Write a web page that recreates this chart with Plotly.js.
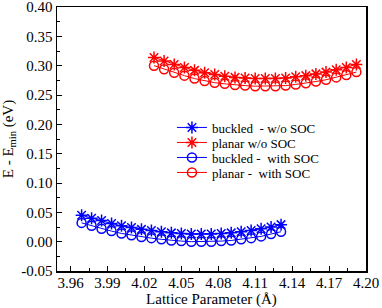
<!DOCTYPE html>
<html>
<head>
<meta charset="utf-8">
<script src="https://cdn.plot.ly/plotly-3.0.1.min.js"></script>
<style>html,body{margin:0;padding:0;background:#fff;}#chart{width:382px;height:308px;}</style>
</head>
<body>
<div id="chart"></div>
<script>
var xBuckled = [3.969,3.9771,3.9852,3.9933,4.0014,4.0095,4.0176,4.0257,4.0338,4.0419,4.05,4.0581,4.0662,4.0743,4.0824,4.0905,4.0986,4.1067,4.1148,4.1229,4.131];
var xPlanar = [4.0278,4.0360,4.0442,4.0525,4.0607,4.0689,4.0771,4.0853,4.0936,4.1018,4.11,4.1182,4.1264,4.1347,4.1429,4.1511,4.1593,4.1675,4.1758,4.1840,4.1922];
var buckledNoSOC = [0.045,0.040,0.036,0.031,0.027,0.024,0.021,0.019,0.017,0.015,0.014,0.013,0.013,0.013,0.014,0.015,0.017,0.019,0.022,0.025,0.029];
var buckledSOC = [0.032,0.027,0.022,0.018,0.014,0.011,0.008,0.006,0.004,0.002,0.001,0.000,0.000,0.000,0.001,0.002,0.004,0.006,0.009,0.013,0.017];
var planarNoSOC = [0.314,0.308,0.302,0.297,0.292,0.288,0.285,0.282,0.280,0.279,0.278,0.278,0.278,0.279,0.281,0.283,0.286,0.289,0.293,0.297,0.302];
var planarSOC = [0.300,0.294,0.288,0.283,0.278,0.274,0.271,0.269,0.267,0.266,0.265,0.265,0.265,0.266,0.268,0.270,0.273,0.276,0.280,0.284,0.289];
var names = ["buckled  - w/o SOC","planar w/o SOC","buckled -  with SOC","planar -  with SOC"];
var xTicks = [3.96,3.99,4.02,4.05,4.08,4.11,4.14,4.17,4.20];
var yTicks = [-0.05,0.00,0.05,0.10,0.15,0.20,0.25,0.30,0.35,0.40];

var fam = '"Liberation Serif", "Times New Roman", serif';
var fTick = {family:fam,size:15,color:'#000'};
var fTitle = {family:fam,size:15,color:'#000'};
var fLeg = {family:fam,size:13,color:'#000'};
var legY = [0.5436,0.4867,0.4299,0.3731];
function tr(x,y,name,color,sym,size,i){
  return {x:x,y:y,name:name,type:'scatter',mode:'lines+markers',
    legend: i===0 ? 'legend' : 'legend'+(i+1),
    line:{color:color,width:1},
    marker:{symbol:sym,size:size,color:color,line:{color:color,width:1.5}}};
}
var data = [
  tr(xBuckled,buckledNoSOC,names[0],'#0000ff','asterisk-open',10,0),
  tr(xPlanar,planarNoSOC,names[1],'#ff0000','asterisk-open',10,1),
  tr(xBuckled,buckledSOC,names[2],'#0000ff','circle-open',9,2),
  tr(xPlanar,planarSOC,names[3],'#ff0000','circle-open',9,3)
];
function leg(i){
  return {x:0.372,y:legY[i],xanchor:'left',yanchor:'middle',bgcolor:'rgba(0,0,0,0)',font:fLeg,borderwidth:0};
}
var layout = {
  width:382,height:308,
  margin:{l:57,r:16,t:7,b:37},
  paper_bgcolor:'#fff',plot_bgcolor:'#fff',
  font:fTick,
  showlegend:true,
  legend:leg(0),legend2:leg(1),legend3:leg(2),legend4:leg(3),
  xaxis:{range:[3.949,4.2],tickvals:xTicks,ticktext:xTicks.map(function(v){return v.toFixed(2);}),
    ticks:'inside',ticklen:5,tickcolor:'#000',showgrid:false,zeroline:false,ticklabeloverflow:'allow',
    ticklabelstandoff:-3,
    showline:true,linecolor:'#000',linewidth:1.5,mirror:true,tickfont:fTick,
    minor:{dtick:0.015,tick0:3.96,ticks:'inside',ticklen:3,tickcolor:'#000',showgrid:false},
    title:{text:'Lattice Parameter (Å)',font:fTitle,standoff:2}},
  yaxis:{range:[-0.05,0.40],tickvals:yTicks,ticktext:yTicks.map(function(v){return v.toFixed(2);}),
    ticks:'inside',ticklen:5,tickcolor:'#000',showgrid:false,zeroline:false,ticklabeloverflow:'allow',
    showline:true,linecolor:'#000',linewidth:1.5,mirror:true,tickfont:fTick,
    minor:{dtick:0.025,tick0:0,ticks:'inside',ticklen:3,tickcolor:'#000',showgrid:false},
    title:{text:'E - E<sub>min</sub> (eV)',font:fTitle,standoff:4}}
};
Plotly.newPlot('chart',data,layout,{displayModeBar:false,staticPlot:true});
</script>
</body>
</html>
